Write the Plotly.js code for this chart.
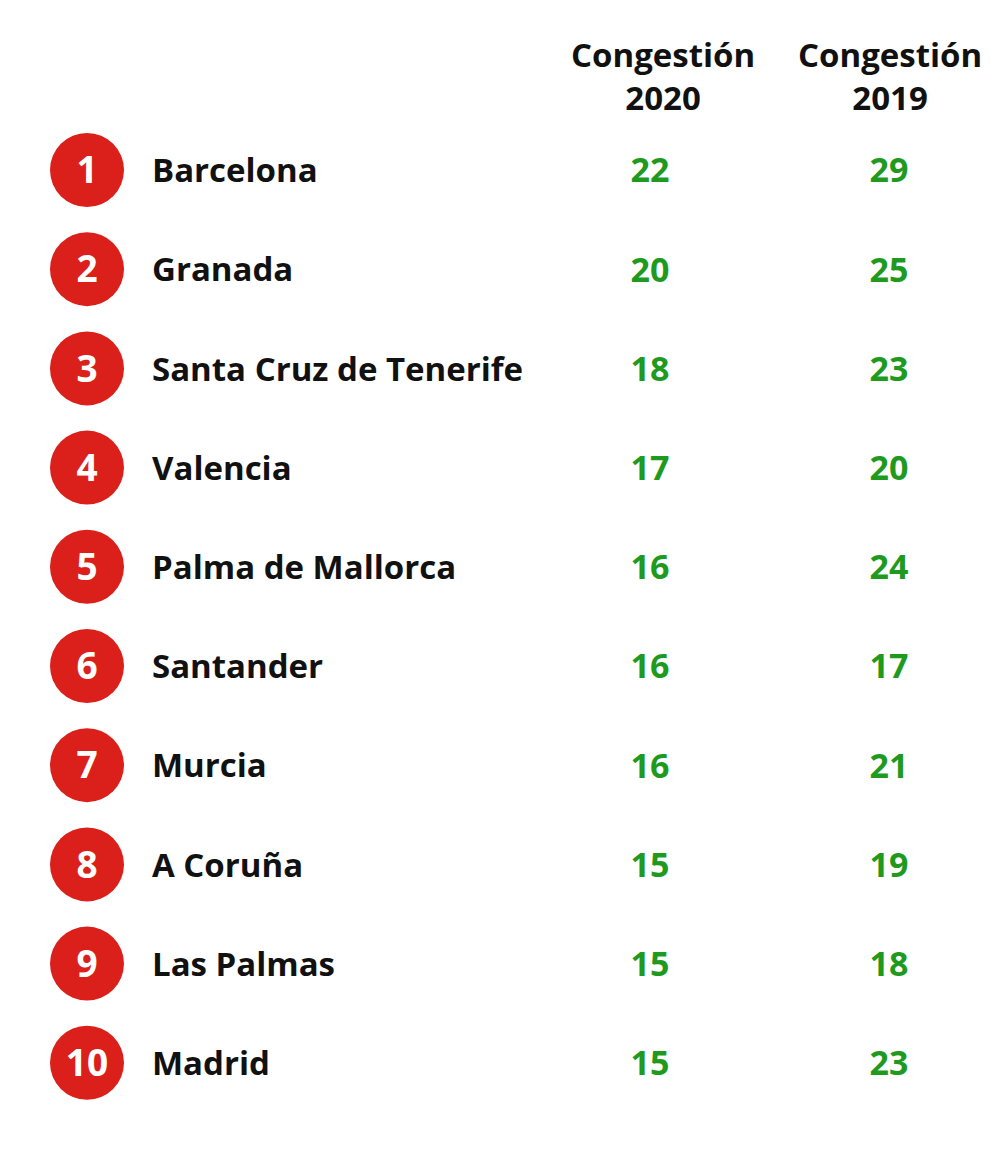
<!DOCTYPE html>
<html><head><meta charset="utf-8">
<script src="https://cdn.plot.ly/plotly-3.0.1.min.js"></script>
<style>html,body{margin:0;padding:0;background:#fff} svg text{font-variant-ligatures:none;}</style>
</head><body><div id="chart" style="width:1000px;height:1158px"></div>
<script>
const ranks = [1,2,3,4,5,6,7,8,9,10];
const cities = ["Barcelona","Granada","Santa Cruz de Tenerife","Valencia","Palma de Mallorca","Santander","Murcia","A Coruña","Las Palmas","Madrid"];
const congestion2020 = [22,20,18,17,16,16,16,15,15,15];
const congestion2019 = [29,25,23,20,24,17,21,19,18,23];
const headers = ["Congestión<br>2020","Congestión<br>2019"];

const FONT = "'Open Sans', sans-serif";
const xCircle = 87, xCity = 152, x2020 = 650, x2019 = 889;
const xHead = [663, 890];

const traces = [
  {x: ranks.map(()=>xCircle), y: ranks, mode:'markers', marker:{size:74, color:'#db1f1a', line:{width:0}},
   hoverinfo:'skip', cliponaxis:false},
  {x: ranks.map(()=>xCircle), y: ranks, yaxis:'y2', mode:'text', text: ranks.map(String), textposition:'middle center',
   textfont:{family:FONT, size:37, color:'#ffffff', weight:'bold'}, hoverinfo:'skip', cliponaxis:false},
  {x: ranks.map(()=>xCity), y: ranks, yaxis:'y2', mode:'text', text: cities, textposition:'middle right',
   textfont:{family:FONT, size:33, color:'#111111', weight:'bold'}, hoverinfo:'skip', cliponaxis:false},
  {x: ranks.map(()=>x2020), y: ranks, yaxis:'y2', mode:'text', text: congestion2020.map(String), textposition:'middle center',
   textfont:{family:FONT, size:34, color:'#1e9a1e', weight:'bold'}, hoverinfo:'skip', cliponaxis:false},
  {x: ranks.map(()=>x2019), y: ranks, yaxis:'y2', mode:'text', text: congestion2019.map(String), textposition:'middle center',
   textfont:{family:FONT, size:34, color:'#1e9a1e', weight:'bold'}, hoverinfo:'skip', cliponaxis:false}
];

const annotations = headers.map((h,i)=>({
  x: xHead[i], y: 0.05, xref:'x', yref:'y', text: h, showarrow:false,
  font:{family:FONT, size:33, color:'#111111', weight:'bold'}, align:'center',
  xanchor:'center', yanchor:'middle'
}));

const layout = {
  width:1000, height:1158, margin:{l:0,r:0,t:0,b:0},
  paper_bgcolor:'#ffffff', plot_bgcolor:'#ffffff', showlegend:false,
  xaxis:{range:[0,1000], visible:false, fixedrange:true},
  yaxis:{range:[10.96,-0.7137], visible:false, fixedrange:true},
  yaxis2:{range:[10.92,-0.7537], visible:false, fixedrange:true, overlaying:'y'},
  annotations: annotations
};
Plotly.newPlot('chart', traces, layout, {displayModeBar:false, staticPlot:true});
</script></body></html>
